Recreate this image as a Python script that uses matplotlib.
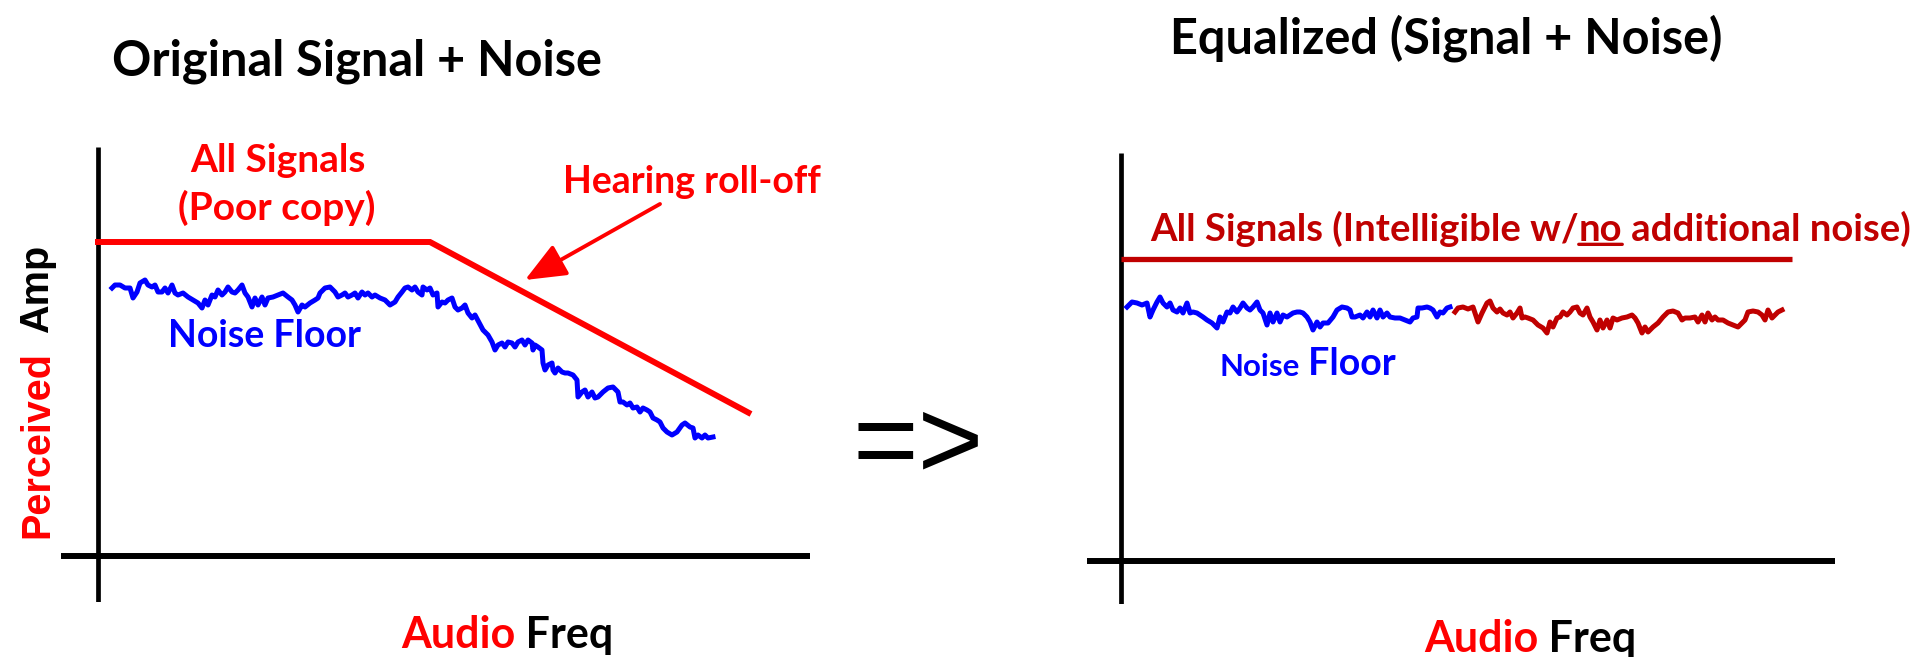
import matplotlib
matplotlib.use('Agg')
import matplotlib.pyplot as plt

W, H = 1925, 657

RED = '#FF0000'
DARK_RED = '#C00000'
BLUE = '#0000FF'
CAL = ['Lato', 'DejaVu Sans']          # stand-in for Calibri bold
ARI = ['Liberation Sans', 'DejaVu Sans']

# ---- left panel : original signal + noise (freq / amplitude, panel units) ----
sig_freq = [-3, 332, 653]
sig_amp = [314, 314, 142]

noise_freq = [14, 17, 22, 27, 32, 35, 39, 42, 47, 50, 54, 57, 60, 64, 67, 70, 74, 77, 80, 85,
              90, 95, 100, 104, 107, 110, 114, 117, 120, 124, 127, 130, 134, 137, 140, 144, 147, 150, 154, 157,
              160, 164, 167, 170, 175, 180, 185, 190, 194, 197, 200, 204, 207, 212, 217, 220,
              222, 227, 232, 237, 240, 244, 247, 250, 254, 257, 260, 264, 267, 270, 274, 277, 282, 287, 292, 297,
              300, 304, 307, 310, 314, 317, 320, 324, 325, 329, 332, 335, 339, 340, 344, 347, 350, 354, 357, 360,
              364, 367, 370, 374, 377,
              385, 390, 394, 397, 400, 404, 407, 410, 414, 417, 420, 424, 427, 430, 434, 435, 437, 440, 444, 445,
              447, 450, 454, 455, 457, 460, 464, 467, 470, 475, 479, 480, 484, 487, 490, 494, 497, 500, 505, 510,
              515, 520, 522, 525, 529, 532, 535, 539, 542, 545, 549, 552, 555, 559, 562, 565, 569, 574, 579, 584,
              587, 592, 595, 597, 600, 604, 607, 610, 615]
noise_amp = [268, 271, 271, 268, 268, 258, 264, 273, 276, 271, 269, 271, 264, 264, 268, 263, 271, 263, 261, 263,
             259, 256, 253, 248, 256, 251, 261, 259, 266, 261, 264, 269, 264, 263, 266, 271, 263, 259, 249, 258,
             251, 259, 251, 258, 259, 261, 263, 259, 256, 251, 244, 251, 249, 253, 256, 258,
             263, 268, 269, 264, 259, 261, 263, 259, 261, 263, 258, 264, 261, 263, 259, 261, 258, 256, 251, 254,
             259, 264, 268, 269, 266, 269, 264, 261, 269, 266, 268, 261, 263, 249, 254, 253, 256, 258, 249, 246,
             248, 251, 243, 238, 241,
             226, 221, 214, 206, 211, 213, 209, 214, 213, 209, 214, 216, 211, 216, 213, 206, 211, 209, 206, 193,
             186, 191, 193, 186, 183, 188, 184, 183, 183, 181, 176, 159, 164, 166, 159, 164, 158, 159, 164, 168,
             169, 164, 154, 154, 151, 153, 148, 149, 144, 148, 146, 144, 138, 136, 134, 128, 124, 121, 124, 131,
             133, 129, 128, 118, 121, 118, 121, 118, 119]

# ---- right panel : equalized ----
eq_sig_freq = [0, 671]
eq_sig_amp = [302, 302]

eq_noise_freq = [6, 11, 16, 21, 26, 29, 32, 36, 39, 42, 46, 49, 52, 56, 59, 62, 66, 69, 72, 76,
                 79, 82, 86, 91, 96, 99, 102, 106, 109, 112, 116, 119, 122, 126, 129, 132, 136, 139, 142, 146,
                 149, 152, 156, 159, 162, 166, 169, 172, 176, 179, 182, 186, 189, 192, 196, 199, 202, 207, 212, 216,
                 221, 226, 229, 231, 234, 239, 242, 246, 249, 252, 256, 259, 262, 266, 269, 274, 279, 284, 289, 292,
                 296, 297, 301, 306, 309, 312, 316, 319, 322, 326, 329]
eq_noise_amp = [254, 259, 258, 256, 258, 244, 251, 259, 264, 258, 254, 258, 251, 249, 253, 248, 258, 248, 249, 248,
                246, 244, 241, 238, 233, 244, 239, 249, 248, 254, 249, 253, 258, 253, 251, 254, 259, 251, 248, 236,
                248, 239, 248, 239, 246, 244, 246, 248, 249, 249, 248, 244, 239, 231, 239, 234, 238, 238, 244, 251,
                254, 253, 251, 244, 244, 246, 243, 249, 244, 251, 243, 251, 244, 248, 244, 243, 243, 241, 239, 243,
                244, 253, 253, 254, 253, 251, 244, 249, 248, 253, 254]

eq_boost_freq = [334, 337, 342, 347, 352, 357, 361, 366, 369, 372, 376, 379, 382, 386, 389, 392, 396, 399, 401, 404,
                 407, 412, 417, 422, 426, 429, 432, 436, 439, 442, 446, 449, 452, 456, 459, 462, 466, 469, 472, 476,
                 479, 482, 486, 489, 492, 496, 501, 506, 511, 514, 517, 521, 524, 527, 532, 537, 542, 547, 552, 557,
                 561, 564, 569, 574, 577, 581, 584, 587, 591, 594, 597, 602, 607, 612, 617, 621, 624, 627, 632, 637,
                 641, 644, 647, 651, 654, 657, 661]
eq_boost_amp = [249, 253, 254, 252, 254, 239, 248, 258, 260, 253, 249, 252, 248, 246, 249, 243, 248, 253, 243, 244,
                243, 241, 236, 233, 228, 239, 234, 243, 244, 249, 246, 249, 253, 254, 248, 246, 253, 244, 239, 231,
                241, 233, 241, 233, 243, 241, 243, 244, 246, 243, 238, 228, 234, 229, 234, 238, 244, 249, 250, 248,
                241, 243, 243, 244, 239, 246, 239, 248, 241, 244, 241, 241, 238, 236, 234, 238, 241, 249, 250, 249,
                246, 241, 251, 243, 246, 249, 251]


fig = plt.figure(figsize=(W / 100, H / 100), dpi=100)


def px(x, y):
    # figure pixel (from top-left) -> figure fraction
    return x / W, 1 - y / H


def panel(x0, y0, x1, y1, ox, oy):
    ax = fig.add_axes([x0 / W, 1 - y1 / H, (x1 - x0) / W, (y1 - y0) / H])
    ax.set_xlim(x0 - ox, x1 - ox)
    ax.set_ylim(oy - y1, oy - y0)
    ax.axis('off')
    ax.axhline(0, color='k', lw=4.3, solid_capstyle='butt')
    ax.axvline(0, color='k', lw=3.4, solid_capstyle='butt')
    return ax


def audio_freq(x, y):
    t = fig.text(*px(x, y), 'Audio', color=RED, fontsize=31, fontweight='bold', family=CAL,
                 ha='left', va='baseline')
    fig.add_artist(plt.Annotation(' Freq', xy=(1, 0), xycoords=t, xytext=(0, 0),
                                  textcoords='offset points', color='k', fontsize=31,
                                  fontweight='bold', family=CAL, ha='left', va='bottom'))


# ================= left =================
axL = panel(61, 147, 810, 602, 98, 556)
axL.plot(sig_freq, sig_amp, color=RED, lw=4.3, solid_capstyle='butt', solid_joinstyle='miter')
axL.plot(noise_freq, noise_amp, color=BLUE, lw=3.6, solid_joinstyle='round')

axL.text(180, 384, 'All Signals', color=RED, fontsize=28, fontweight='bold', family=CAL,
         ha='center', va='baseline')
axL.text(179, 336, '(Poor copy)', color=RED, fontsize=28, fontweight='bold', family=CAL,
         ha='center', va='baseline')
axL.text(594, 363, 'Hearing roll-off', color=RED, fontsize=27, fontweight='bold', family=CAL,
         ha='center', va='baseline')
axL.annotate('', xy=(427, 276), xytext=(562, 352),
             arrowprops=dict(arrowstyle='-|>,head_length=1.0,head_width=0.42', color=RED,
                             lw=2.8, mutation_scale=25, shrinkA=0, shrinkB=0))
axL.text(167, 209, 'Noise Floor', color=BLUE, fontsize=27, fontweight='bold', family=CAL,
         ha='center', va='baseline')

fig.text(*px(357, 75), 'Original Signal + Noise', fontsize=35, fontweight='bold', family=CAL,
         ha='center', va='baseline')

# y label, rotated, two colours
fig.text(*px(37, 538), 'Perceived', rotation=90, color=RED, fontsize=28.5, fontweight='bold',
         family=ARI, ha='center', va='bottom')
fig.text(*px(37, 245), 'Amp', rotation=90, color='k', fontsize=28.5, fontweight='bold',
         family=ARI, ha='center', va='top')

audio_freq(401, 648)

# arrow between the panels
fig.text(*px(918, 478), '=>', fontsize=81, family=ARI, ha='center', va='baseline')

# ================= right =================
axR = panel(1087, 153, 1835, 604, 1121, 561)
axR.plot(eq_sig_freq, eq_sig_amp, color=DARK_RED, lw=3.8, solid_capstyle='butt')
axR.plot(eq_noise_freq, eq_noise_amp, color=BLUE, lw=3.6, solid_joinstyle='round')
axR.plot(eq_boost_freq, eq_boost_amp, color=DARK_RED, lw=3.6, solid_joinstyle='round')

fig.text(*px(1446, 54), 'Equalized (Signal + Noise)', fontsize=35, fontweight='bold', family=CAL,
         ha='center', va='baseline')

l1 = axR.text(29, 320, 'All Signals (Intelligible w/', color=DARK_RED, fontsize=27.5,
              fontweight='bold', family=CAL, ha='left', va='baseline')
l2 = axR.annotate('no', xy=(1, 0), xycoords=l1, color=DARK_RED, fontsize=27.5,
                  fontweight='bold', family=CAL, ha='left', va='bottom')
axR.annotate(' additional noise)', xy=(1, 0), xycoords=l2, color=DARK_RED, fontsize=27.5,
             fontweight='bold', family=CAL, ha='left', va='bottom')
axR.annotate('', xy=(0, 0.08), xycoords=l2, xytext=(1, 0.08), textcoords=l2,
             arrowprops=dict(arrowstyle='-', color=DARK_RED, lw=2.4, shrinkA=0, shrinkB=0))

n1 = axR.text(98, 185, 'Noise', color=BLUE, fontsize=22.5, fontweight='bold', family=CAL,
              ha='left', va='baseline')
axR.annotate(' Floor', xy=(1, 0), xycoords=n1, color=BLUE, fontsize=27, fontweight='bold',
             family=CAL, ha='left', va='bottom')

audio_freq(1424, 652)

fig.savefig('out.png', dpi=100, facecolor='white')
